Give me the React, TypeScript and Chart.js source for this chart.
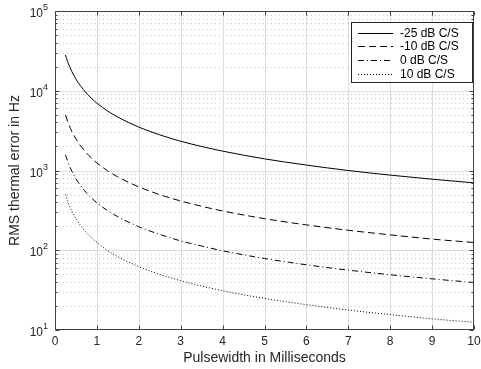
import React, { useEffect, useRef } from "react";
import { Chart, registerables } from "chart.js";

Chart.register(...registerables);

// Pulsewidth in milliseconds
const pulsewidth = [0.25, 0.3, 0.4, 0.5, 0.6, 0.75, 1, 1.25, 1.5, 2, 2.5, 3, 3.5, 4, 5, 6, 7, 8, 9, 10];
// RMS thermal error in Hz for each C/S level
const errMinus25 = [28000, 23300, 17500, 14000, 11700, 9330, 7000, 5600, 4670, 3500, 2800, 2330, 2000, 1750, 1400, 1170, 1000, 875, 778, 700];
const errMinus10 = [4980, 4150, 3110, 2490, 2075, 1660, 1245, 996, 830, 623, 498, 415, 356, 311, 249, 208, 178, 156, 138, 125];
const err0 = [1576, 1313, 985, 788, 657, 525, 394, 315, 263, 197, 158, 131, 113, 98.5, 78.8, 65.7, 56.3, 49.3, 43.8, 39.4];
const err10 = [498, 415, 311, 249, 208, 166, 125, 99.6, 83, 62.3, 49.8, 41.5, 35.6, 31.1, 24.9, 20.8, 17.8, 15.6, 13.8, 12.5];

const seriesLabels = ["-25 dB C/S", "-10 dB C/S", "0 dB C/S", "10 dB C/S"];
const seriesValues = [errMinus25, errMinus10, err0, err10];
const seriesDash: number[][] = [[], [7, 4], [6, 3, 1, 3], [1, 2]];

const xTicks = [0, 1, 2, 3, 4, 5, 6, 7, 8, 9, 10];
const yDecades = [1, 2, 3, 4, 5];

const FONT = "'Liberation Sans', Arial, sans-serif";
const AXIS = "#404040";

const axesPlugin = {
  id: "matlabAxes",
  beforeDatasetsDraw(chart: any) {
    const { ctx, chartArea, scales } = chart;
    const { left, right, top, bottom } = chartArea;
    const x = scales.x;
    const y = scales.y;
    ctx.save();
    ctx.lineWidth = 1;
    // minor dotted horizontal grid
    ctx.strokeStyle = "#cccccc";
    ctx.setLineDash([1, 3]);
    for (let d = 1; d < 5; d++) {
      for (let m = 2; m <= 9; m++) {
        const py = Math.round(y.getPixelForValue(m * Math.pow(10, d))) + 0.5;
        ctx.beginPath();
        ctx.moveTo(left, py);
        ctx.lineTo(right, py);
        ctx.stroke();
      }
    }
    ctx.setLineDash([]);
    ctx.strokeStyle = "#dddddd";
    for (const xv of xTicks) {
      if (xv === 0 || xv === 10) continue;
      const px = Math.round(x.getPixelForValue(xv)) + 0.5;
      ctx.beginPath();
      ctx.moveTo(px, top);
      ctx.lineTo(px, bottom);
      ctx.stroke();
    }
    for (const d of yDecades) {
      if (d === 1 || d === 5) continue;
      const py = Math.round(y.getPixelForValue(Math.pow(10, d))) + 0.5;
      ctx.beginPath();
      ctx.moveTo(left, py);
      ctx.lineTo(right, py);
      ctx.stroke();
    }
    ctx.restore();
  },
  afterDatasetsDraw(chart: any) {
    const { ctx, chartArea, scales } = chart;
    const { left, right, top, bottom } = chartArea;
    const x = scales.x;
    const y = scales.y;
    const L = Math.round(left) + 0.5;
    const R = Math.round(right) - 0.5;
    const T = Math.round(top) + 0.5;
    const B = Math.round(bottom) - 0.5;
    ctx.save();
    ctx.lineWidth = 1;
    ctx.setLineDash([]);
    ctx.strokeStyle = AXIS;
    ctx.strokeRect(L, T, R - L, B - T);
    // x ticks (inside, bottom and top)
    for (const xv of xTicks) {
      const px = Math.round(x.getPixelForValue(xv)) + 0.5;
      ctx.beginPath();
      ctx.moveTo(px, B);
      ctx.lineTo(px, B - 4);
      ctx.moveTo(px, T);
      ctx.lineTo(px, T + 4);
      ctx.stroke();
    }
    // y ticks major + minor
    for (let d = 1; d <= 5; d++) {
      const py = Math.round(y.getPixelForValue(Math.pow(10, d))) + 0.5;
      ctx.beginPath();
      ctx.moveTo(L, py);
      ctx.lineTo(L + 4, py);
      ctx.moveTo(R, py);
      ctx.lineTo(R - 4, py);
      ctx.stroke();
      if (d < 5) {
        for (let m = 2; m <= 9; m++) {
          const pm = Math.round(y.getPixelForValue(m * Math.pow(10, d))) + 0.5;
          ctx.beginPath();
          ctx.moveTo(L, pm);
          ctx.lineTo(L + 2, pm);
          ctx.moveTo(R, pm);
          ctx.lineTo(R - 2, pm);
          ctx.stroke();
        }
      }
    }
    // x tick labels
    ctx.fillStyle = "#262626";
    ctx.font = `12px ${FONT}`;
    ctx.textAlign = "center";
    ctx.textBaseline = "middle";
    for (const xv of xTicks) {
      ctx.fillText(String(xv), x.getPixelForValue(xv), bottom + 12);
    }
    // y tick labels 10^n
    for (const d of yDecades) {
      const py = y.getPixelForValue(Math.pow(10, d));
      ctx.font = `9px ${FONT}`;
      const ew = ctx.measureText(String(d)).width;
      const ex = left - 7 - ew;
      ctx.textAlign = "left";
      ctx.textBaseline = "alphabetic";
      ctx.fillText(String(d), ex, py - 1);
      ctx.font = `12px ${FONT}`;
      ctx.textAlign = "right";
      ctx.fillText("10", ex, py + 6);
    }
    // axis titles
    ctx.font = `14px ${FONT}`;
    ctx.textAlign = "center";
    ctx.textBaseline = "middle";
    ctx.fillText("Pulsewidth in Milliseconds", (left + right) / 2, bottom + 28);
    ctx.save();
    ctx.translate(15, (top + bottom) / 2);
    ctx.rotate(-Math.PI / 2);
    ctx.fillText("RMS thermal error in Hz", 0, 0);
    ctx.restore();
    // legend
    const bx = 351.5, by = 22.5, bw = 121, bh = 60;
    ctx.fillStyle = "#ffffff";
    ctx.fillRect(bx, by, bw, bh);
    ctx.strokeStyle = "#262626";
    ctx.strokeRect(bx, by, bw, bh);
    ctx.font = `12px ${FONT}`;
    ctx.textAlign = "left";
    ctx.textBaseline = "middle";
    chart.data.datasets.forEach((ds: any, i: number) => {
      const ry = Math.round(by + 10 + i * 13.8) + 0.5;
      ctx.strokeStyle = "#000";
      ctx.setLineDash(ds.borderDash || []);
      ctx.beginPath();
      ctx.moveTo(358, ry);
      ctx.lineTo(393, ry);
      ctx.stroke();
      ctx.setLineDash([]);
      ctx.fillStyle = "#000";
      ctx.fillText(ds.label, 400, ry);
    });
    ctx.restore();
  },
};

export default function App() {
  const canvasRef = useRef<HTMLCanvasElement | null>(null);
  useEffect(() => {
    if (!canvasRef.current) return;
    const chart = new Chart(canvasRef.current, {
      type: "line",
      data: {
        datasets: seriesLabels.map((label, i) => ({
          label,
          data: pulsewidth.map((xv, j) => ({ x: xv, y: seriesValues[i][j] })),
          borderColor: "#000000",
          borderWidth: 1,
          borderDash: seriesDash[i],
          pointRadius: 0,
          fill: false,
          cubicInterpolationMode: "monotone" as const,
        })),
      },
      options: {
        animation: false,
        responsive: false,
        maintainAspectRatio: false,
        layout: { padding: { top: 11, right: 7, left: 0, bottom: 0 } },
        plugins: { legend: { display: false }, tooltip: { enabled: false } },
        scales: {
          x: {
            type: "linear",
            min: 0,
            max: 10,
            ticks: { display: false, stepSize: 1 },
            grid: { display: false },
            border: { display: false },
            afterFit: (s: any) => {
              s.height = 39;
            },
          },
          y: {
            type: "logarithmic",
            min: 10,
            max: 100000,
            ticks: { display: false },
            grid: { display: false },
            border: { display: false },
            afterFit: (s: any) => {
              s.width = 55;
            },
          },
        },
      },
      plugins: [axesPlugin],
    });
    return () => chart.destroy();
  }, []);
  return (
    <div style={{ position: "absolute", left: 0, top: 0, width: 481, height: 369, background: "#fff" }}>
      <canvas ref={canvasRef} width={481} height={369} style={{ display: "block" }} />
    </div>
  );
}
